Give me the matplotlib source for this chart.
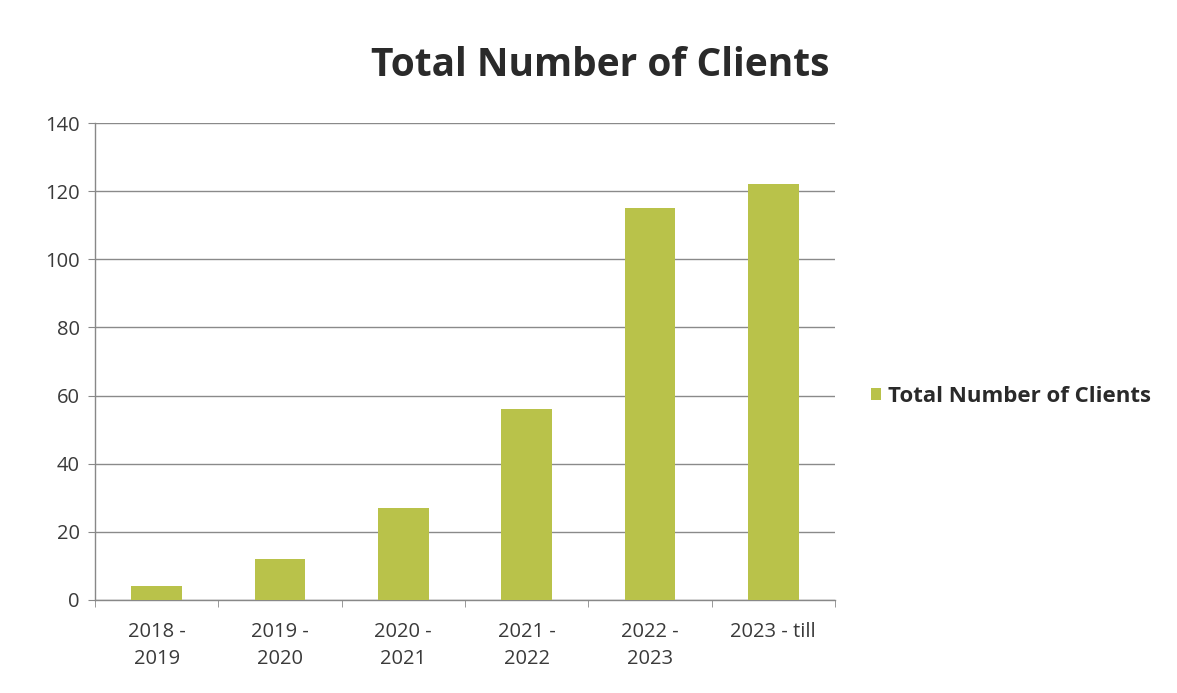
import matplotlib
matplotlib.use("Agg")
import matplotlib.pyplot as plt
import numpy as np

categories = ["2018 -\n2019", "2019 -\n2020", "2020 -\n2021", "2021 -\n2022", "2022 -\n2023", "2023 - till"]
clients = [4, 12, 27, 56, 115, 122]
yticks = [0, 20, 40, 60, 80, 100, 120, 140]
series_name = "Total Number of Clients"

plt.rcParams['font.family'] = ['Open Sans', 'DejaVu Sans']

fig = plt.figure(figsize=(11.77, 6.93), dpi=100)
ax = fig.add_axes([0.0807, 0.1342, 0.6287, 0.6883])

x = np.arange(len(categories))
bars = ax.bar(x, clients, width=0.41, color="#b9c24a", label=series_name, zorder=3)

ax.set_xlim(-0.5, len(categories) - 0.5)
ax.set_ylim(0, 140)
ax.set_yticks(yticks)
ax.set_yticklabels([str(v) for v in yticks], fontsize=14.5, color="#3a3a3a")
ax.set_xticks(x)
ax.set_xticklabels(categories, fontsize=14.5, color="#3a3a3a", linespacing=1.45, va='top')
ax.tick_params(axis='x', length=0, pad=16)
ax.set_xticks(np.arange(-0.5, len(categories)), minor=True)
ax.tick_params(axis='x', which='minor', length=5, color="#888888", direction='out')
ax.tick_params(axis='y', length=5, color="#888888", direction='out', pad=6)

ax.grid(axis='y', color="#8a8a8a", linewidth=1.0, zorder=0)
for s in ['top', 'right']:
    ax.spines[s].set_visible(False)
for s in ['left', 'bottom']:
    ax.spines[s].set_color("#888888")
    ax.spines[s].set_linewidth(1.0)

fig.text(0.51, 0.906, "Total Number of Clients", ha='center', va='center',
         fontsize=28, fontweight='bold', color="#2a2a2a")

leg = fig.legend(handles=[bars], labels=[series_name], loc='center left',
                 bbox_to_anchor=(0.723, 0.428), frameon=False,
                 handlelength=0.45, handleheight=0.45, handletextpad=0.3,
                 prop={'size': 16, 'weight': 'bold'})
for t in leg.get_texts():
    t.set_color("#2a2a2a")

fig.savefig("out.png", dpi=100)
